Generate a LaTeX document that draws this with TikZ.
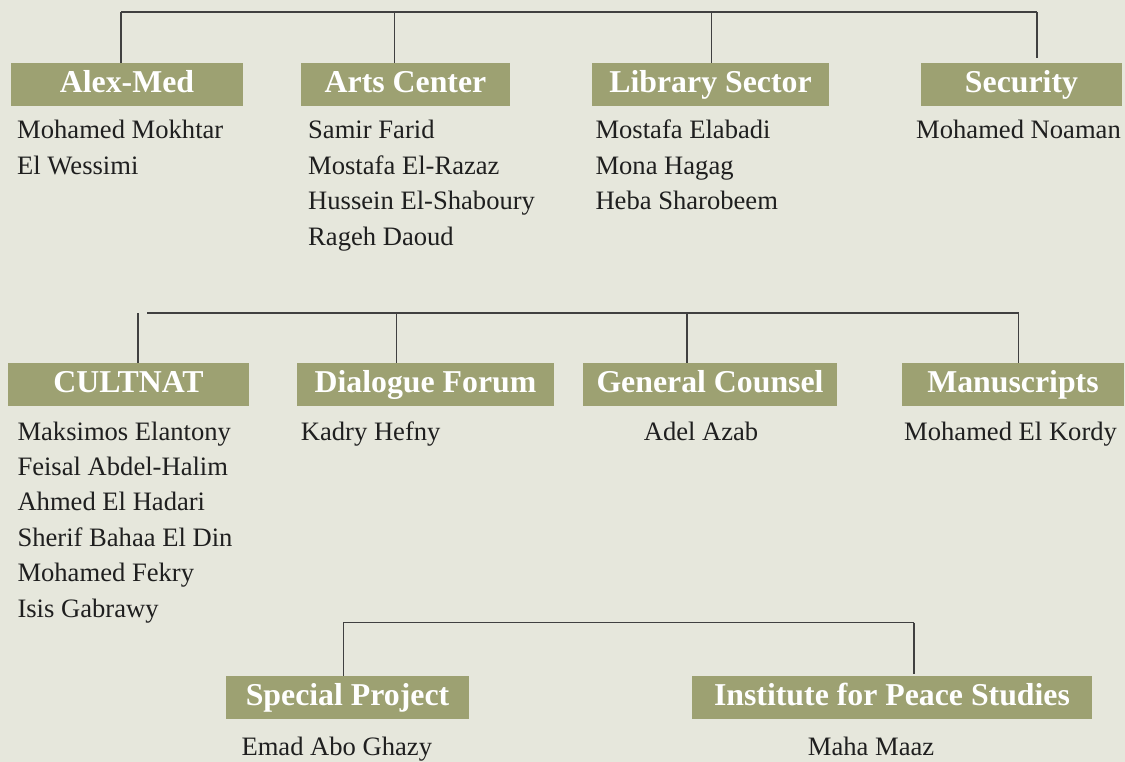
\documentclass[tikz,border=0pt]{standalone}
\usepackage{fontspec}
\setmainfont{Liberation Serif}
\definecolor{olivebox}{RGB}{157,161,114}
\definecolor{paper}{RGB}{230,231,220}
\tikzset{
  unit/.style={fill=olivebox,text=white,inner sep=0pt,minimum height=43pt,
    text height=21pt,text depth=4.6pt,font=\bfseries\fontsize{31.8}{32}\selectfont},
  staff/.style={anchor=base west,align=left,inner sep=0pt,text=black!88,
    font=\fontsize{26.6}{35.4}\selectfont},
  link/.style={draw=black!75,line width=1.5pt}
}
\begin{document}
\begin{tikzpicture}[x=1pt,y=-1pt]
  \fill[paper] (0,0) rectangle (1125,762);
  % first row
  \node[unit,minimum width=232pt] (alexmed) at (127,84.5) {Alex-Med};
  \node[unit,minimum width=209pt] (arts) at (405.5,84.5) {Arts Center};
  \node[unit,minimum width=237pt] (library) at (710.5,84.5) {Library Sector};
  \node[unit,minimum width=201pt] (security) at (1021.5,84.5) {Security};
  % (base of a list = its last line)
  \node[staff] (alexmedstaff) at (17,174.4) {Mohamed Mokhtar\\El Wessimi};
  \node[staff] (artsstaff) at (308,245.2) {Samir Farid\\Mostafa El-Razaz\\Hussein El-Shaboury\\Rageh Daoud};
  \node[staff] (librarystaff) at (595.3,209.8) {Mostafa Elabadi\\Mona Hagag\\Heba Sharobeem};
  \node[staff] (securitystaff) at (916,139) {Mohamed Noaman};
  \coordinate (rowA) at (121,12);
  \coordinate (rowAend) at (1037,12);
  \coordinate (dropArts) at (394.7,12);
  \coordinate (dropLib) at (711.4,12);
  \draw[link] (rowA) -- (rowAend);
  \foreach \d/\n in {rowA/alexmed,dropArts/arts,dropLib/library}
    \draw[link] (\d) -- (\d |- \n.north);
  \draw[link] (rowAend) -- ([yshift=4.7pt]rowAend |- security.north);
  % second row
  \node[unit,minimum width=241pt] (cultnat) at (128.5,384.5) {CULTNAT};
  \node[unit,minimum width=257pt] (dialogue) at (425.5,384.5) {Dialogue Forum};
  \node[unit,minimum width=254pt] (counsel) at (710,384.5) {General Counsel};
  \node[unit,minimum width=222pt] (manuscripts) at (1013,384.5) {Manuscripts};
  \node[staff] (cultnatstaff) at (17.3,617) {Maksimos Elantony\\Feisal Abdel-Halim\\Ahmed El Hadari\\Sherif Bahaa El Din\\Mohamed Fekry\\Isis Gabrawy};
  \node[staff] (dialoguestaff) at (300.7,440) {Kadry Hefny};
  \node[staff] (counselstaff) at (643.6,440) {Adel Azab};
  \node[staff] (manuscriptsstaff) at (904,440) {Mohamed El Kordy};
  \coordinate (rowB) at (147,313);
  \coordinate (rowBend) at (1018.7,313);
  \coordinate (dropCult) at (138,313);
  \coordinate (dropDia) at (396.7,313);
  \coordinate (dropCoun) at (686.8,313);
  \draw[link] (rowB) -- (rowBend);
  \foreach \d/\n in {dropCult/cultnat,dropDia/dialogue,dropCoun/counsel,rowBend/manuscripts}
    \draw[link] (\d) -- (\d |- \n.north);
  % third row
  \node[unit,minimum width=243pt,minimum height=42.7pt] (special) at (347.5,697.3) {Special Project};
  \node[unit,minimum width=400pt,minimum height=42.7pt] (peace) at (892,697.3) {Institute for Peace Studies};
  \node[staff] (specialstaff) at (241.3,755) {Emad Abo Ghazy};
  \node[staff] (peacestaff) at (807.7,755) {Maha Maaz};
  \coordinate (rowC) at (343.4,622.7);
  \coordinate (rowCend) at (913.9,622.7);
  \draw[link] (rowC) -- (rowCend);
  \draw[link] (rowC) -- (rowC |- special.north);
  \draw[link] (rowCend) -- ([yshift=2pt]rowCend |- peace.north);
\end{tikzpicture}
\end{document}
